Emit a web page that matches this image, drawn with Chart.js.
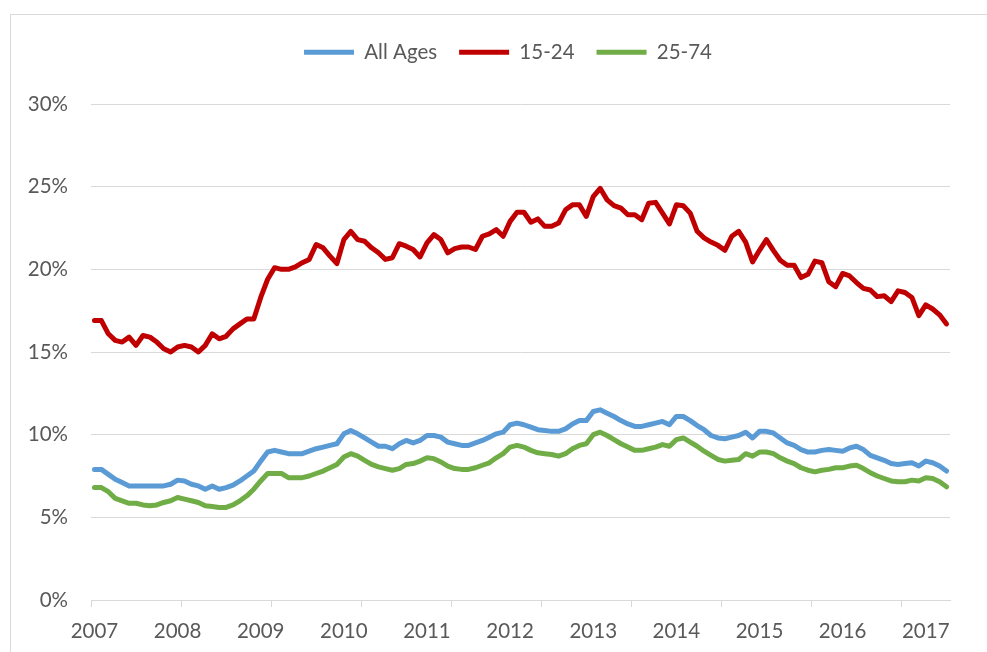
<!DOCTYPE html>
<html>
<head>
<meta charset="utf-8">
<script src="https://cdn.jsdelivr.net/npm/chart.js@4.4.0/dist/chart.umd.min.js"></script>
<style>
  html, body { margin: 0; padding: 0; background: #fff; overflow: hidden; }
  #frame {
    position: absolute; left: 10px; top: 14px;
    width: 996px; height: 660px;
    border: 1px solid #d9d9d9; box-sizing: border-box;
  }
  #chart { display: block; }
</style>
</head>
<body>
<div id="frame"><canvas id="chart" width="994" height="658"></canvas></div>
<script>
// monthly, Jan 2007 - Apr 2017
const years = ['2007', '2008', '2009', '2010', '2011', '2012', '2013', '2014', '2015', '2016', '2017'];
const monthNames = ['Jan', 'Feb', 'Mar', 'Apr', 'May', 'Jun', 'Jul', 'Aug', 'Sep', 'Oct', 'Nov', 'Dec'];
const months = [];
years.forEach((y) => monthNames.forEach((m) => months.push(m + ' ' + y)));
months.length = 124;

const seriesNames = ['All Ages', '15-24', '25-74'];

const allAges = [
  7.9, 7.9, 7.6, 7.3, 7.1, 6.9, 6.9, 6.9, 6.9, 6.9,
  6.9, 7.0, 7.25, 7.2, 7.0, 6.9, 6.7, 6.9, 6.7, 6.8,
  6.95, 7.2, 7.5, 7.8, 8.4, 8.95, 9.05, 8.95, 8.85, 8.85,
  8.85, 9.0, 9.15, 9.25, 9.35, 9.45, 10.05, 10.25, 10.05, 9.8,
  9.55, 9.3, 9.3, 9.15, 9.45, 9.65, 9.5, 9.65, 9.95, 9.95,
  9.85, 9.55, 9.45, 9.35, 9.35, 9.5, 9.65, 9.85, 10.05, 10.15,
  10.6, 10.7, 10.6, 10.45, 10.3, 10.25, 10.2, 10.2, 10.35, 10.65,
  10.85, 10.85, 11.4, 11.5, 11.3, 11.1, 10.85, 10.65, 10.5, 10.5,
  10.6, 10.7, 10.8, 10.6, 11.1, 11.1, 10.85, 10.55, 10.3, 9.95,
  9.8, 9.75, 9.85, 9.95, 10.15, 9.8, 10.2, 10.2, 10.1, 9.8,
  9.5, 9.35, 9.1, 8.95, 8.95, 9.05, 9.1, 9.05, 9.0, 9.2,
  9.3, 9.1, 8.75, 8.6, 8.45, 8.25, 8.2, 8.25, 8.3, 8.1,
  8.4, 8.3, 8.1, 7.8,
];

const age15to24 = [
  16.9, 16.9, 16.1, 15.7, 15.6, 15.9, 15.4, 16.0, 15.9, 15.6,
  15.2, 15.0, 15.3, 15.4, 15.3, 15.0, 15.4, 16.1, 15.8, 15.95,
  16.4, 16.7, 17.0, 17.0, 18.3, 19.4, 20.1, 20.0, 20.0, 20.15,
  20.4, 20.6, 21.5, 21.3, 20.8, 20.35, 21.8, 22.3, 21.8, 21.7,
  21.3, 21.0, 20.6, 20.7, 21.55, 21.4, 21.2, 20.75, 21.6, 22.1,
  21.8, 21.0, 21.25, 21.35, 21.35, 21.2, 22.0, 22.15, 22.4, 22.0,
  22.9, 23.45, 23.45, 22.85, 23.05, 22.6, 22.6, 22.8, 23.6, 23.9,
  23.9, 23.2, 24.4, 24.9, 24.2, 23.85, 23.7, 23.3, 23.3, 23.0,
  24.0, 24.05, 23.4, 22.75, 23.9, 23.85, 23.4, 22.3, 21.9, 21.65,
  21.45, 21.15, 22.0, 22.3, 21.65, 20.45, 21.15, 21.8, 21.15, 20.55,
  20.25, 20.25, 19.5, 19.7, 20.5, 20.4, 19.25, 18.95, 19.75, 19.6,
  19.2, 18.85, 18.75, 18.35, 18.4, 18.05, 18.7, 18.6, 18.3, 17.2,
  17.85, 17.6, 17.25, 16.7,
];

const age25to74 = [
  6.8, 6.8, 6.55, 6.15, 6.0, 5.85, 5.85, 5.75, 5.7, 5.75,
  5.9, 6.0, 6.2, 6.1, 6.0, 5.9, 5.7, 5.65, 5.6, 5.6,
  5.75, 6.0, 6.3, 6.7, 7.2, 7.65, 7.65, 7.65, 7.4, 7.4,
  7.4, 7.5, 7.65, 7.8, 8.0, 8.2, 8.65, 8.85, 8.7, 8.45,
  8.2, 8.05, 7.95, 7.85, 7.95, 8.2, 8.25, 8.4, 8.6, 8.55,
  8.35, 8.1, 7.95, 7.9, 7.9, 8.0, 8.15, 8.3, 8.6, 8.85,
  9.25, 9.35, 9.25, 9.05, 8.9, 8.85, 8.8, 8.7, 8.85, 9.15,
  9.35, 9.45, 10.0, 10.15, 9.95, 9.7, 9.45, 9.25, 9.05, 9.05,
  9.15, 9.25, 9.4, 9.3, 9.7, 9.8, 9.55, 9.3, 9.0, 8.75,
  8.5, 8.4, 8.45, 8.5, 8.85, 8.7, 8.95, 8.95, 8.85, 8.6,
  8.4, 8.25, 8.0, 7.85, 7.75, 7.85, 7.9, 8.0, 8.0, 8.1,
  8.15, 7.95, 7.7, 7.5, 7.35, 7.2, 7.15, 7.15, 7.25, 7.2,
  7.4, 7.35, 7.15, 6.85,
];

const colors = ['#5b9bd5', '#c00000', '#70ad47'];
const gridColor = '#d9d9d9';
const textColor = '#595959';

Chart.defaults.font.family = 'Lato, "Open Sans", sans-serif';
Chart.defaults.font.size = 20.5;
Chart.defaults.color = textColor;

// legend sits centred on the whole frame, plot starts under it
const legendSpace = {
  id: 'legendSpace',
  beforeInit(chart) {
    const fit = chart.legend.fit;
    chart.legend.fit = function () {
      fit.bind(chart.legend)();
      this.height = 84;
    };
  },
  afterLayout(chart) {
    chart.legend.left = 0;
    chart.legend.right = chart.width;
  },
};

const makeSet = (label, data, color, order) => ({
  label,
  data,
  order,
  borderColor: color,
  backgroundColor: color,
  borderWidth: 5,
  borderCapStyle: 'round',
  borderJoinStyle: 'round',
  pointRadius: 0,
  pointHoverRadius: 0,
  tension: 0,
  fill: false,
});

new Chart(document.getElementById('chart'), {
  type: 'line',
  data: {
    labels: months,
    datasets: [
      makeSet(seriesNames[0], allAges, colors[0], 3),
      makeSet(seriesNames[1], age15to24, colors[1], 2),
      makeSet(seriesNames[2], age25to74, colors[2], 1),
    ],
  },
  options: {
    responsive: false,
    animation: false,
    layout: { padding: { left: 0, right: 55, top: 5, bottom: 0 } },
    plugins: {
      legend: {
        position: 'top',
        reverse: true,
        labels: {
          usePointStyle: true,
          pointStyle: 'line',
          pointStyleWidth: 50,
          padding: 22,
          color: textColor,
          font: { size: 20.5 },
        },
      },
      tooltip: { enabled: false },
    },
    scales: {
      x: {
        type: 'category',
        offset: true,
        afterFit: (scale) => { scale.height = 73; },
        grid: {
          offset: true,
          drawOnChartArea: false,
          drawTicks: true,
          tickLength: 7,
          tickColor: (ctx) => (ctx.index % 13 === 0 && ctx.index < 124 ? gridColor : 'rgba(0,0,0,0)'),
          color: 'rgba(0,0,0,0)',
        },
        border: { display: true, color: gridColor, width: 1 },
        ticks: {
          autoSkip: false,
          maxRotation: 0,
          minRotation: 0,
          padding: 12,
          color: textColor,
          callback: (val, index) => (index % 12 === 0 ? years[index / 12] : ''),
        },
      },
      y: {
        min: 0,
        max: 30,
        afterFit: (scale) => { scale.width = 80; },
        grid: { color: gridColor, lineWidth: 1, drawTicks: false },
        border: { display: false },
        ticks: {
          stepSize: 5,
          padding: 23,
          color: textColor,
          callback: (v) => v + '%',
        },
      },
    },
  },
  plugins: [legendSpace],
});
</script>
</body>
</html>
